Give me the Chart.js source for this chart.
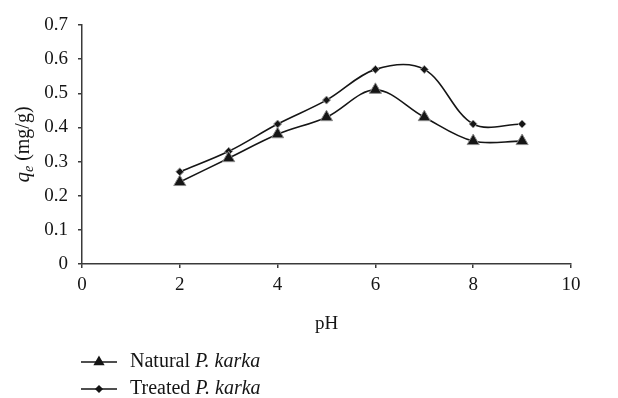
<!DOCTYPE html>
<html>
<head>
<meta charset="utf-8">
<script src="https://cdn.jsdelivr.net/npm/chart.js@4.4.1/dist/chart.umd.min.js"></script>
<style>
  html, body { margin: 0; padding: 0; background: #fff; }
  #wrap { width: 618px; height: 398px; position: relative; }
</style>
</head>
<body>
<div id="wrap"><canvas id="chart"></canvas></div>
<script>
// pH values and adsorption capacity qe (mg/g)
const phValues = [2, 3, 4, 5, 6, 7, 8, 9];
const naturalQe = [0.24, 0.31, 0.38, 0.43, 0.51, 0.43, 0.36, 0.36];
const treatedQe = [0.27, 0.33, 0.41, 0.48, 0.57, 0.57, 0.41, 0.41];

// legend names: plain part + italic part
const seriesNames = [['Natural ', 'P. karka'], ['Treated ', 'P. karka']];

const FONT = '"Liberation Serif", "DejaVu Serif", serif';
const INK = '#151515';
const AXIS = '#3a3a3a';

function toPoints(xs, ys) {
    return xs.map((x, i) => ({ x: x, y: ys[i] }));
}

// y axis title with italic q and subscript e
const yTitlePlugin = {
    id: 'yTitle',
    afterDraw(chart) {
        const ctx = chart.ctx;
        const area = chart.chartArea;
        ctx.save();
        ctx.translate(24, (area.top + area.bottom) / 2);
        ctx.rotate(-Math.PI / 2);
        ctx.fillStyle = INK;
        ctx.textBaseline = 'alphabetic';
        const parts = [
            { t: 'q', f: 'italic 21px ' + FONT, dy: 0 },
            { t: 'e', f: 'italic 14px ' + FONT, dy: 4 },
            { t: ' (mg/g)', f: '20px ' + FONT, dy: 0 }
        ];
        let w = 0;
        parts.forEach(p => { ctx.font = p.f; w += ctx.measureText(p.t).width; });
        let x = -w / 2;
        parts.forEach(p => {
            ctx.font = p.f;
            ctx.fillText(p.t, x, 5 + p.dy);
            x += ctx.measureText(p.t).width;
        });
        ctx.restore();
    }
};

// vertical legend under the plot, with mixed upright/italic labels
const legendPlugin = {
    id: 'stackLegend',
    afterDraw(chart) {
        const ctx = chart.ctx;
        const rows = [362, 389];
        chart.data.datasets.forEach((ds, i) => {
            const y = rows[i];
            ctx.save();
            ctx.strokeStyle = ds.borderColor;
            ctx.lineWidth = 1.5;
            ctx.beginPath();
            ctx.moveTo(81, y);
            ctx.lineTo(117, y);
            ctx.stroke();
            ctx.fillStyle = ds.pointBackgroundColor;
            ctx.strokeStyle = INK;
            Chart.helpers.drawPoint(ctx, {
                pointStyle: ds.pointStyle,
                radius: ds.legendRadius,
                borderWidth: 1
            }, 99, y);
            ctx.restore();

            ctx.save();
            ctx.fillStyle = INK;
            ctx.textBaseline = 'middle';
            ctx.font = '20px ' + FONT;
            const name = seriesNames[i];
            ctx.fillText(name[0], 130, y);
            const w = ctx.measureText(name[0]).width;
            ctx.font = 'italic 20px ' + FONT;
            ctx.fillText(name[1], 130 + w, y);
            ctx.restore();
        });
    }
};

const ctx = document.getElementById('chart').getContext('2d');
new Chart(ctx, {
    type: 'line',
    data: {
        datasets: [{
            label: 'Natural P. karka',
            data: toPoints(phValues, naturalQe),
            borderColor: INK,
            borderWidth: 1.6,
            tension: 0.35,
            pointStyle: 'triangle',
            pointRadius: 7,
            legendRadius: 5,
            pointBackgroundColor: INK,
            pointBorderColor: '#8a8a8a',
            pointBorderWidth: 1
        }, {
            label: 'Treated P. karka',
            data: toPoints(phValues, treatedQe),
            borderColor: INK,
            borderWidth: 1.6,
            tension: 0.35,
            pointStyle: 'rectRot',
            pointRadius: 4,
            legendRadius: 3,
            pointBackgroundColor: INK,
            pointBorderColor: '#9a9a9a',
            pointBorderWidth: 1
        }]
    },
    options: {
        responsive: true,
        maintainAspectRatio: false,
        animation: false,
        layout: { padding: { top: 25, right: 47, bottom: 63, left: 0 } },
        plugins: {
            legend: { display: false },
            tooltip: { enabled: false }
        },
        scales: {
            x: {
                type: 'linear',
                min: 0,
                max: 10,
                ticks: { stepSize: 2, color: INK, font: { family: FONT, size: 19 }, padding: 6 },
                grid: { drawOnChartArea: false, drawTicks: true, tickLength: 4, color: AXIS, lineWidth: 1.5 },
                border: { color: AXIS, width: 1.5 },
                title: { display: true, text: 'pH', color: INK, font: { family: FONT, size: 19 }, padding: 0 },
                afterFit(scale) { scale.height = 71; }
            },
            y: {
                min: 0,
                max: 0.7,
                ticks: { stepSize: 0.1, color: INK, font: { family: FONT, size: 19 }, padding: 10 },
                grid: { drawOnChartArea: false, drawTicks: true, tickLength: 4, color: AXIS, lineWidth: 1.5 },
                border: { color: AXIS, width: 1.5 },
                afterFit(scale) { scale.width = 82; }
            }
        }
    },
    plugins: [yTitlePlugin, legendPlugin]
});
</script>
</body>
</html>
